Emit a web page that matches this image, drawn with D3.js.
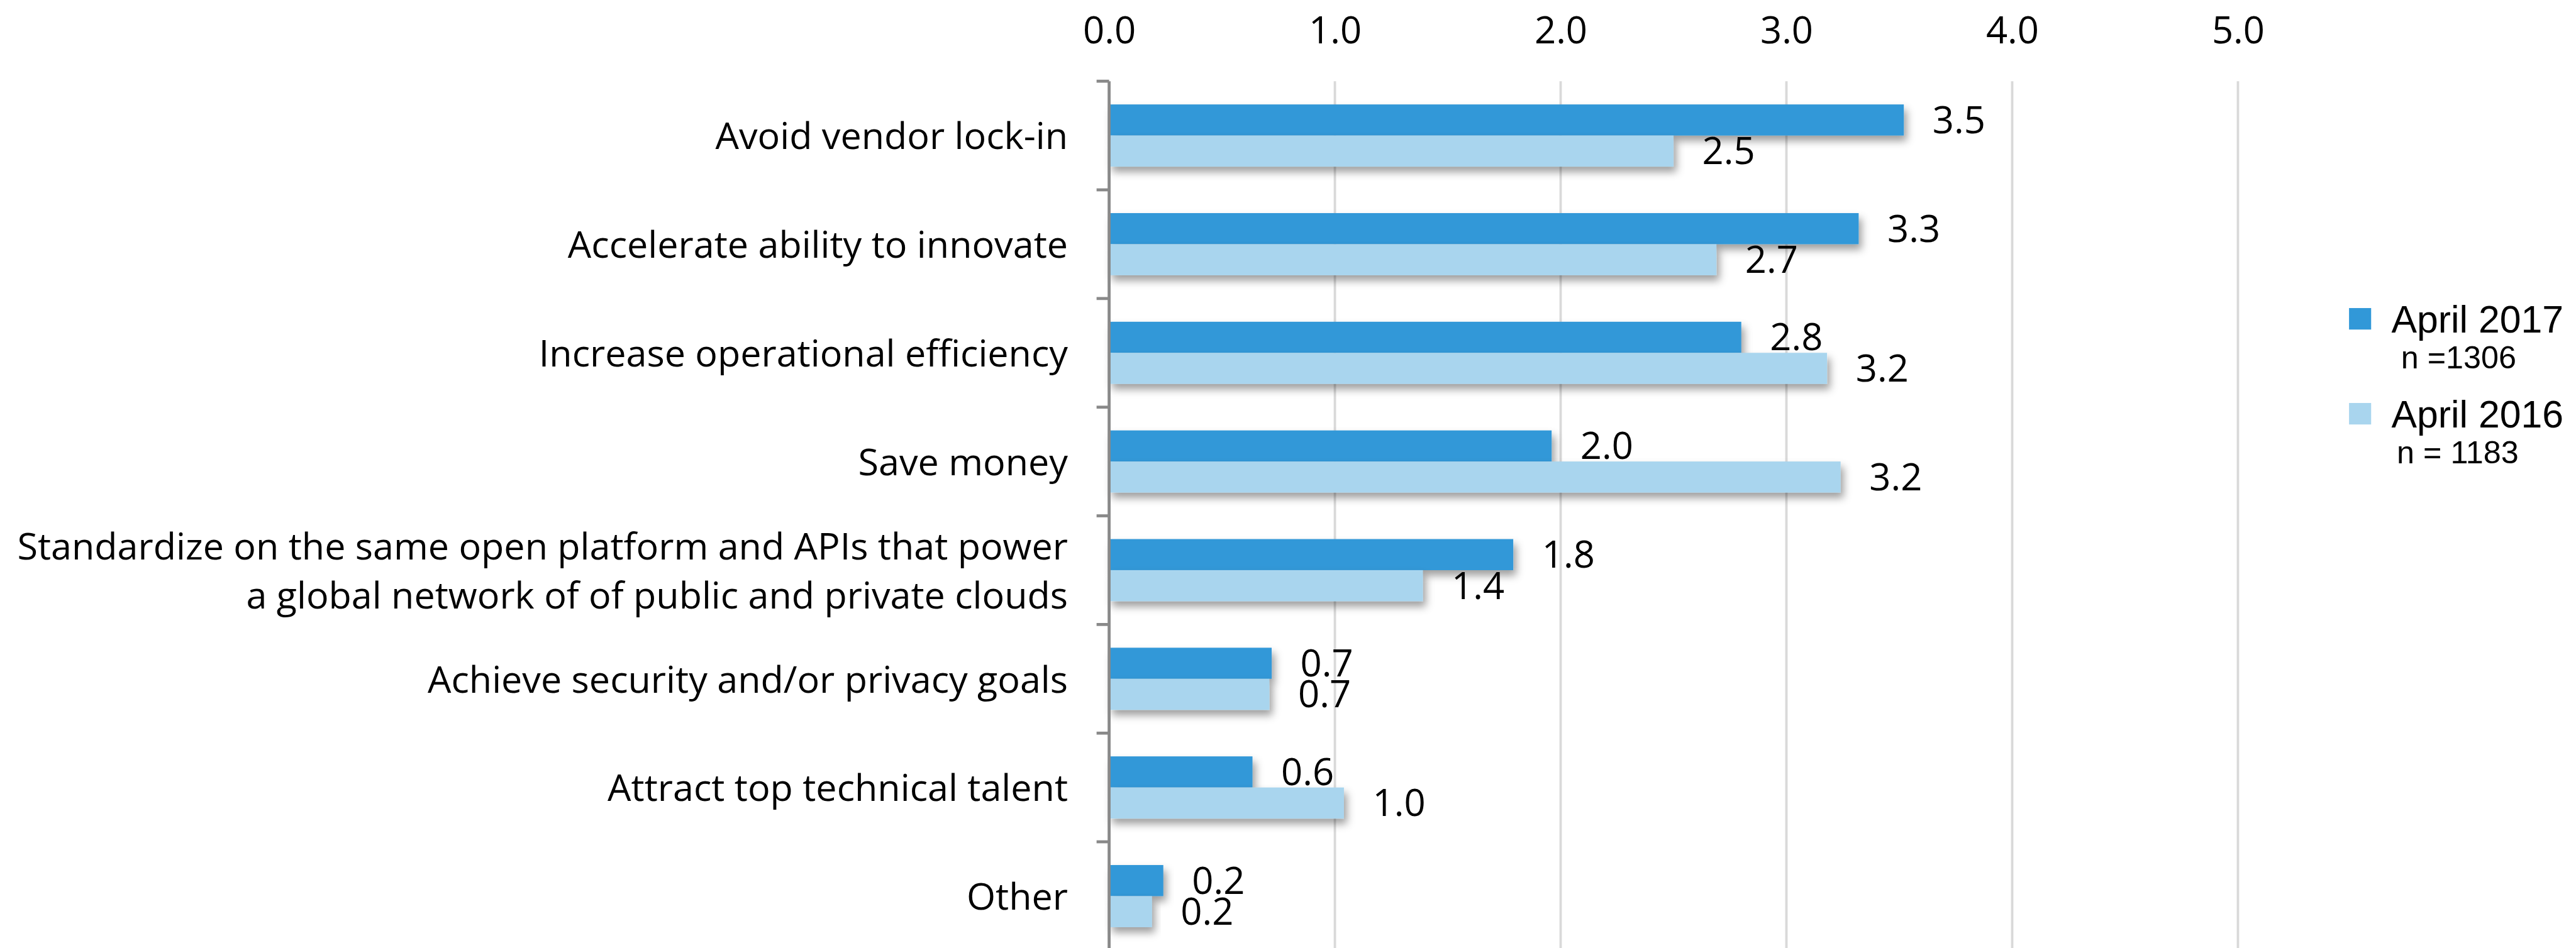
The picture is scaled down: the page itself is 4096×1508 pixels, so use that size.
<!DOCTYPE html>
<html>
<head>
<meta charset="utf-8">
<script src="https://cdn.jsdelivr.net/npm/d3@7"></script>
<style>
  html, body { margin: 0; padding: 0; background: #ffffff; overflow: hidden; }
  svg { display: block; }
</style>
</head>
<body>
<svg id="chart" width="4096" height="1508"></svg>
<script>
// ---- data ----
const categories = [
  "Avoid vendor lock-in",
  "Accelerate ability to innovate",
  "Increase operational efficiency",
  "Save money",
  "Standardize on the same open platform and APIs that power|a global network of of public and private clouds",
  "Achieve security and/or privacy goals",
  "Attract top technical talent",
  "Other"
];
const seriesNames = ["April 2017", "April 2016"];
const seriesNotes = ["n =1306", "n = 1183"];
const values2017 = [3.52, 3.32, 2.80, 1.96, 1.79, 0.72, 0.635, 0.24];
const values2016 = [2.50, 2.69, 3.18, 3.24, 1.39, 0.71, 1.04, 0.19];
const xTicks = [0, 1, 2, 3, 4, 5];

const colors = ["#3198d8", "#a9d5ee"];

// ---- layout (reference pixel space, scaled to window) ----
const REF_W = 4313, REF_H = 1588;
const S = 4096 / REF_W;

const svg = d3.select("#chart");
const defs = svg.append("defs");
const f = defs.append("filter").attr("id", "shadow")
  .attr("x", "-10%").attr("y", "-50%").attr("width", "130%").attr("height", "250%");
f.append("feDropShadow").attr("dx", 5).attr("dy", 9).attr("stdDeviation", 7)
  .attr("flood-color", "#000").attr("flood-opacity", 0.38);

const root = svg.append("g").attr("transform", `scale(${S})`);

const x = d3.scaleLinear().domain([0, 5]).range([1857, 3747]);
const y = d3.scaleBand().domain(categories).range([136, 1592])
  .paddingInner(0.428).paddingOuter(0.214);
const ySub = d3.scaleBand().domain(seriesNames).range([0, y.bandwidth()]);

const FONT = "'Open Sans', 'Segoe UI', sans-serif";

// gridlines
root.append("g").selectAll("line").data(xTicks.filter(d => d > 0)).join("line")
  .attr("x1", d => x(d)).attr("x2", d => x(d))
  .attr("y1", 136).attr("y2", 1592)
  .attr("stroke", "#d9d9d9").attr("stroke-width", 4);

// top axis labels
const xAxis = d3.axisTop(x).tickValues(xTicks).tickFormat(d3.format(".1f")).tickSize(0);
const gx = root.append("g").call(xAxis);
gx.select(".domain").remove();
gx.selectAll("text")
  .attr("y", 73).attr("dy", null)
  .attr("font-family", FONT).attr("font-size", 63).attr("fill", "#000");

// bars
const data = categories.map((c, i) => ({ cat: c, vals: [values2017[i], values2016[i]] }));
const groups = root.append("g").selectAll("g").data(data).join("g")
  .attr("transform", d => `translate(0,${y(d.cat)})`);

groups.selectAll("rect").data(d => d.vals.map((v, j) => ({ v, s: seriesNames[j], j })))
  .join("rect")
  .attr("x", x(0))
  .attr("y", d => ySub(d.s))
  .attr("width", d => x(d.v) - x(0))
  .attr("height", ySub.bandwidth())
  .attr("fill", d => colors[d.j])
  .attr("filter", "url(#shadow)");

// data labels
groups.selectAll("text.val").data(d => d.vals.map((v, j) => ({ v, s: seriesNames[j], j })))
  .join("text").attr("class", "val")
  .attr("x", d => x(d.v) + 48)
  .attr("y", d => ySub(d.s) + ySub.bandwidth() / 2 + 22)
  .attr("font-family", FONT).attr("font-size", 63).attr("fill", "#000")
  .text(d => d3.format(".1f")(d.v));

// category axis line and ticks at band boundaries
const boundaries = d3.range(categories.length + 1).map(i => y.range()[0] + i * y.step());
const yAxisG = root.append("g");
yAxisG.append("line")
  .attr("x1", x(0)).attr("x2", x(0))
  .attr("y1", 136).attr("y2", 1592)
  .attr("stroke", "#898989").attr("stroke-width", 5);
yAxisG.selectAll("line.tick").data(boundaries).join("line").attr("class", "tick")
  .attr("x1", x(0) - 21).attr("x2", x(0))
  .attr("y1", d => d).attr("y2", d => d)
  .attr("stroke", "#898989").attr("stroke-width", 5);

// category labels
const catLabels = root.append("g").selectAll("text").data(categories).join("text")
  .attr("text-anchor", "end")
  .attr("font-family", FONT).attr("font-size", 62.4).attr("fill", "#000");
catLabels.each(function (c) {
  const lines = c.split("|");
  const cy = y(c) + y.bandwidth() / 2;
  const t = d3.select(this);
  if (lines.length === 1) {
    t.append("tspan").attr("x", 1788).attr("y", cy + 23).text(lines[0]);
  } else {
    t.append("tspan").attr("x", 1788).attr("y", cy - 18).text(lines[0]);
    t.append("tspan").attr("x", 1788).attr("y", cy + 64).text(lines[1]);
  }
});

// legend
const LFONT = "'Liberation Sans', Arial, sans-serif";
const legend = root.append("g");
const legendTop = [516, 675];
seriesNames.forEach((s, i) => {
  const g = legend.append("g").attr("transform", `translate(3933,${legendTop[i]})`);
  g.append("rect").attr("width", 37).attr("height", 36).attr("fill", colors[i]);
  g.append("text").attr("x", 71).attr("y", 41)
    .attr("font-family", LFONT).attr("font-size", 64).attr("fill", "#000").text(s);
  g.append("text").attr("x", i === 0 ? 87 : 80).attr("y", 101)
    .attr("font-family", LFONT).attr("font-size", 53).attr("fill", "#000").text(seriesNotes[i]);
});
</script>
</body>
</html>
